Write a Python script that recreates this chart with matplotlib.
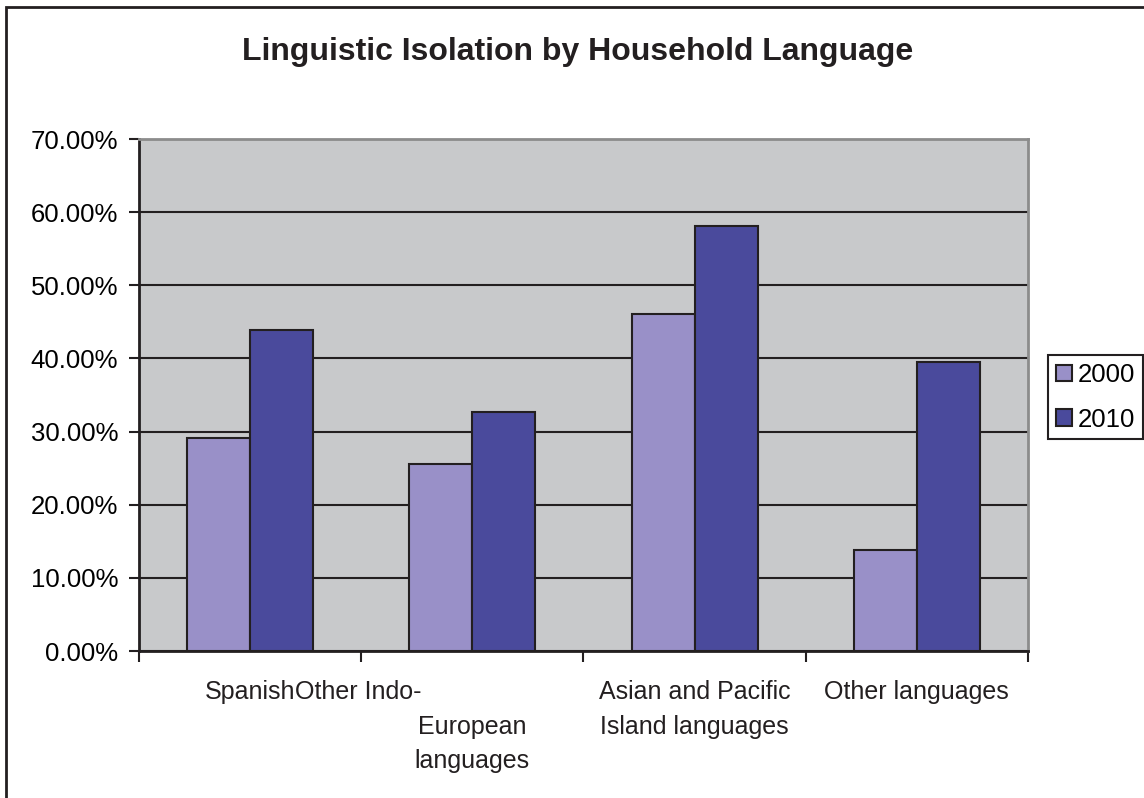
import numpy as np
import matplotlib.pyplot as plt
from matplotlib.patches import Rectangle

plt.rcParams['font.family'] = ['Liberation Sans', 'DejaVu Sans']

categories = ["Spanish", "Other Indo-European languages",
              "Asian and Pacific Island languages", "Other languages"]
tick_labels = ["Spanish", "\nEuropean\nlanguages",
               "Asian and Pacific\nIsland languages", "Other languages"]
years = ["2000", "2010"]
values_2000 = [29.1, 25.6, 46.1, 13.8]
values_2010 = [43.9, 32.7, 58.1, 39.5]
colors = ["#9990c8", "#4a4a9c"]

fig = plt.figure(figsize=(11.44, 7.98), dpi=100)
ax = fig.add_axes([0.1215, 0.1842, 0.777, 0.6416])
ax.set_facecolor("#c8c9cb")

x = np.arange(len(categories))
w = 0.2835
for i, (vals, col, lab) in enumerate(zip([values_2000, values_2010], colors, years)):
    ax.bar(x + (i - 0.5) * w, vals, width=w, color=col, edgecolor="#231f20",
           linewidth=1.5, label=lab, zorder=3)

ax.set_ylim(0, 70)
ax.set_xlim(-0.5, len(categories) - 0.5)
ax.set_yticks(np.arange(0, 71, 10))
ax.set_yticklabels(["%.2f%%" % v for v in np.arange(0, 71, 10)], fontsize=18.5)
ax.yaxis.grid(True, color="#231f20", linewidth=1.5, zorder=1)
ax.set_axisbelow(True)

ax.set_xticks(np.arange(-0.5, len(categories)), minor=False)
ax.set_xticklabels([])
ax.set_xticks(x, minor=True)
xlabs = ax.set_xticklabels(tick_labels, minor=True, fontsize=18, va="top",
                           linespacing=1.55, color="#231f20")
ax.tick_params(axis="x", which="minor", length=0, pad=21)
ax.tick_params(axis="x", which="major", length=8, width=1.5, color="#231f20", direction="out")
ax.tick_params(axis="y", length=7, width=1.5, color="#231f20", direction="out", pad=8)

# the second category's first line runs straight on from "Spanish"
ax.annotate("Other Indo-", xy=(1, 0), xycoords=xlabs[0], ha="left", va="bottom",
            fontsize=18, color="#231f20")

for s in ["top", "right"]:
    ax.spines[s].set_color("#8c8c8c")
    ax.spines[s].set_linewidth(2)
for s in ["left", "bottom"]:
    ax.spines[s].set_color("#231f20")
    ax.spines[s].set_linewidth(2)

fig.text(0.505, 0.935, "Linguistic Isolation by Household Language", ha="center",
         va="center", fontsize=23, fontweight="bold", color="#231f20")

leg = fig.legend(loc="center left", bbox_to_anchor=(0.9165, 0.502), fontsize=18.5,
                 frameon=True, fancybox=False, edgecolor="#231f20", framealpha=1,
                 handlelength=0.6, handleheight=0.6, handletextpad=0.25,
                 borderpad=0.3, labelspacing=0.8, borderaxespad=0)
leg.get_frame().set_linewidth(1.5)

fig.patches.append(Rectangle((6 / 1144, -0.1), 1.2, 1.1 - 7 / 798, transform=fig.transFigure,
                             fill=False, edgecolor="#231f20", linewidth=2))

fig.savefig("out.png", dpi=100)
